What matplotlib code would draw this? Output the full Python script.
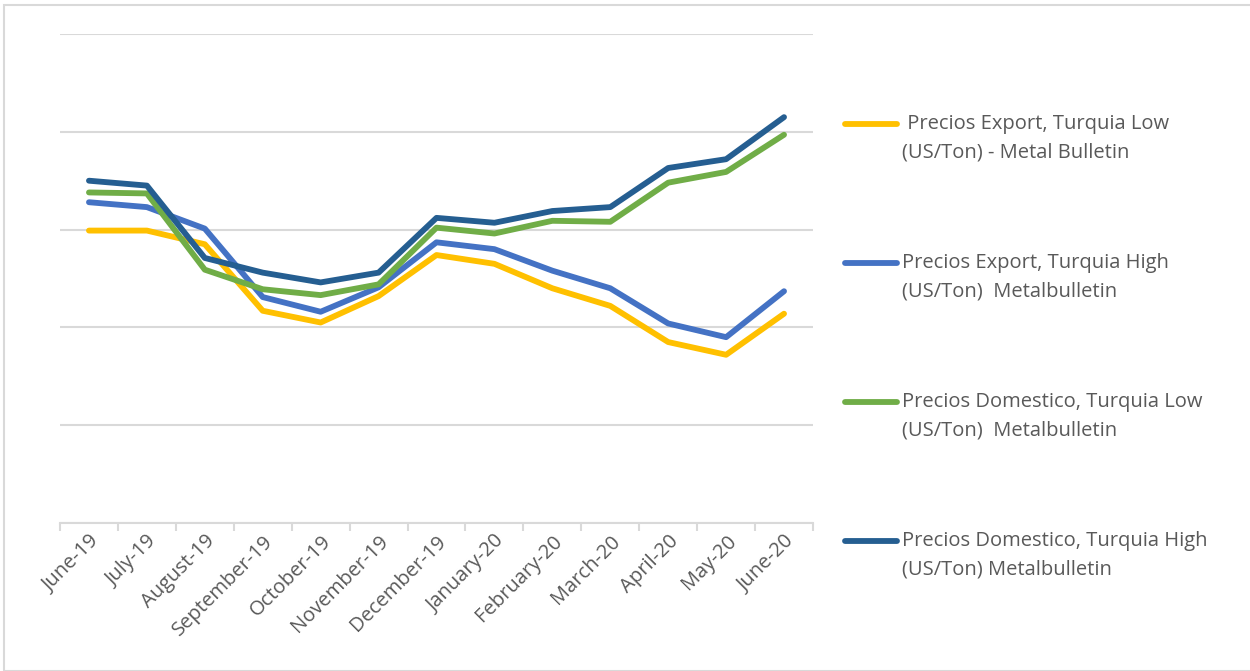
import matplotlib.pyplot as plt
from matplotlib.patches import Rectangle
from matplotlib.lines import Line2D

plt.rcParams['font.family'] = ['Open Sans', 'DejaVu Sans']

months = ['June-19', 'July-19', 'August-19', 'September-19', 'October-19',
          'November-19', 'December-19', 'January-20', 'February-20',
          'March-20', 'April-20', 'May-20', 'June-20']

export_low = [299, 299, 285, 217, 205, 232, 274, 265, 240, 222, 185, 172, 214]
export_high = [328, 323, 301, 231, 216, 241, 287, 280, 258, 240, 204, 190, 237]
dom_low = [338, 337, 259, 239, 233, 244, 302, 296, 309, 308, 348, 359, 397]
dom_high = [350, 345, 271, 256, 246, 256, 312, 307, 319, 323, 363, 372, 415]

labels = [' Precios Export, Turquia Low\n(US/Ton) - Metal Bulletin',
          'Precios Export, Turquia High\n(US/Ton)  Metalbulletin',
          'Precios Domestico, Turquia Low\n(US/Ton)  Metalbulletin',
          'Precios Domestico, Turquia High\n(US/Ton) Metalbulletin']
colors = ['#FFC000', '#4472C4', '#70AD47', '#255E91']

W, H = 1250, 671
fig = plt.figure(figsize=(W / 100, H / 100), dpi=100)
fig.patches.append(Rectangle((0.003, 0.0), 1.2, 0.992, transform=fig.transFigure,
                             fill=False, edgecolor='#d9d9d9', linewidth=1.5))
ax = fig.add_axes([0.048, 0.2206, 0.6024, 0.7287])

x = range(len(months))
for series, lab, col in zip([export_low, export_high, dom_low, dom_high], labels, colors):
    ax.plot(x, series, color=col, linewidth=4.2, solid_capstyle='round',
            solid_joinstyle='round', label=lab)

ax.set_xlim(-0.5, len(months) - 0.5)
ax.set_ylim(0, 500)
ax.set_yticks(range(0, 501, 100))
ax.yaxis.grid(True, color='#d9d9d9', linewidth=1.5)
ax.set_axisbelow(True)
ax.tick_params(axis='y', left=False, labelleft=False)

ax.set_xticks([i - 0.5 for i in range(len(months) + 1)], minor=True)
ax.set_xticks(list(x))
ax.set_xticklabels(months, rotation=45, ha='right', rotation_mode='anchor',
                   color='#595959', fontsize=14.5)
ax.tick_params(axis='x', which='major', length=0, pad=6)
ax.tick_params(axis='x', which='minor', length=6, color='#d9d9d9', width=1.5)

for s in ['top', 'right', 'left']:
    ax.spines[s].set_visible(False)
ax.spines['bottom'].set_color('#d9d9d9')
ax.spines['bottom'].set_linewidth(1.5)

# legend drawn by hand: handle level with the first text line
for i, (lab, col) in enumerate(zip(labels, colors)):
    yy = 1 - (124 + 139 * i) / H
    fig.add_artist(Line2D([845 / W, 897 / W], [yy, yy], transform=fig.transFigure,
                          color=col, linewidth=4.2, solid_capstyle='round'))
    fig.text(902 / W, yy + 10 / H, lab, fontsize=14.5, color='#595959',
             va='top', ha='left', linespacing=1.55)

fig.savefig('out.png', dpi=100)
